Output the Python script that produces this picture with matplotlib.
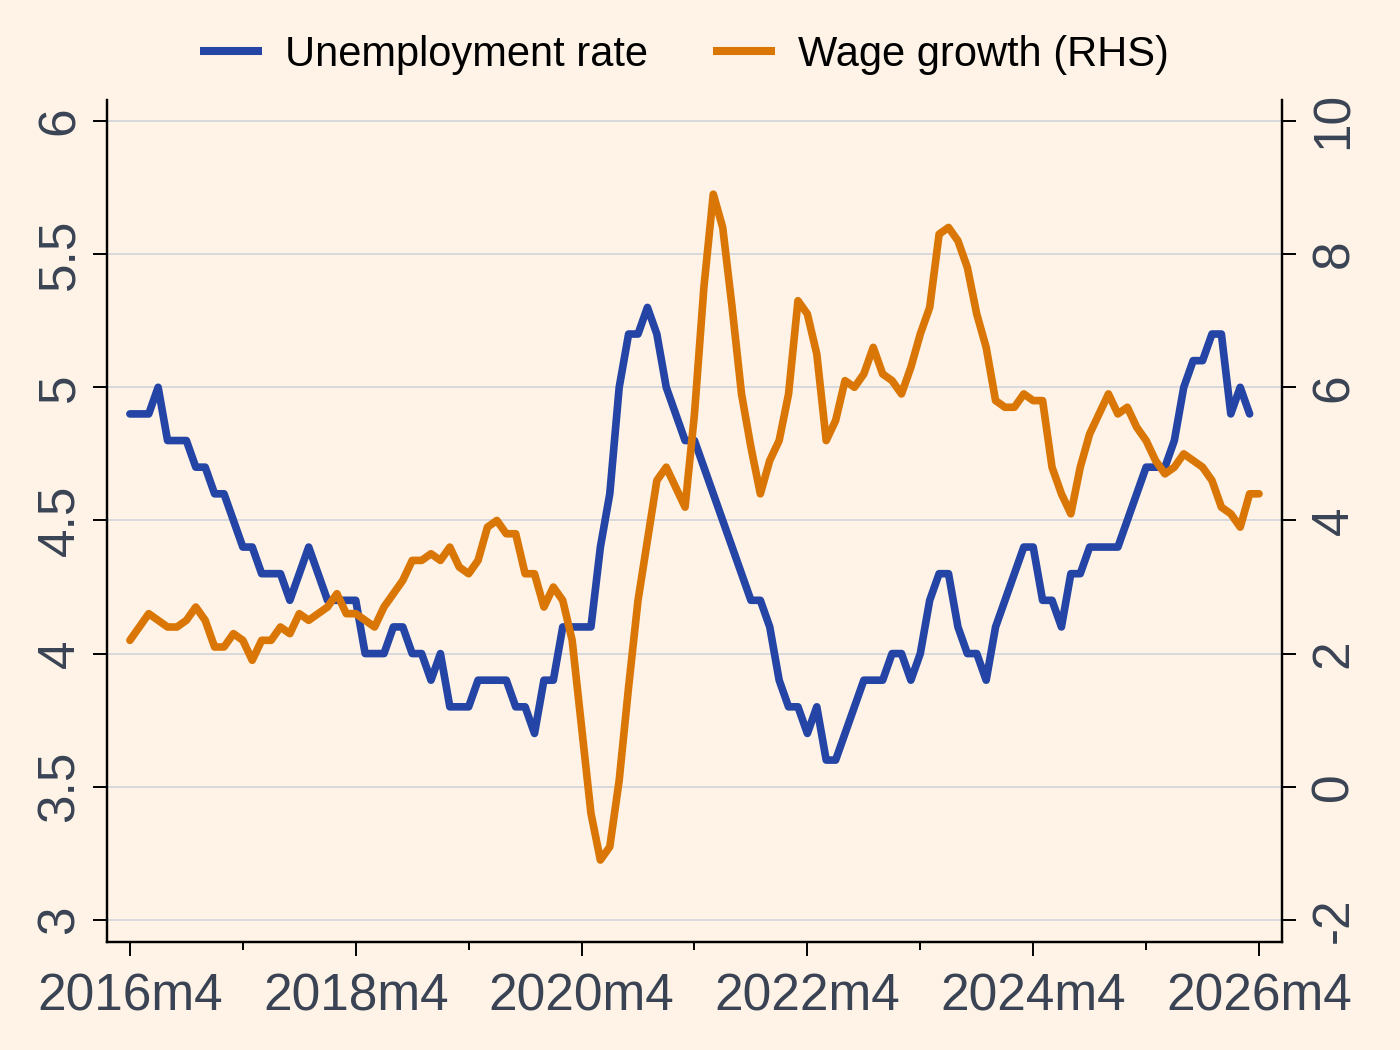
import matplotlib
matplotlib.use("Agg")
import matplotlib.pyplot as plt
import numpy as np

# monthly data, starting 2016m4
unemployment = [4.9, 4.9, 4.9, 5.0, 4.8, 4.8, 4.8, 4.7, 4.7, 4.6,
                4.6, 4.5, 4.4, 4.4, 4.3, 4.3, 4.3, 4.2, 4.3, 4.4,
                4.3, 4.2, 4.2, 4.2, 4.2, 4.0, 4.0, 4.0, 4.1, 4.1,
                4.0, 4.0, 3.9, 4.0, 3.8, 3.8, 3.8, 3.9, 3.9, 3.9,
                3.9, 3.8, 3.8, 3.7, 3.9, 3.9, 4.1, 4.1, 4.1, 4.1,
                4.4, 4.6, 5.0, 5.2, 5.2, 5.3, 5.2, 5.0, 4.9, 4.8,
                4.8, 4.7, 4.6, 4.5, 4.4, 4.3, 4.2, 4.2, 4.1, 3.9,
                3.8, 3.8, 3.7, 3.8, 3.6, 3.6, 3.7, 3.8, 3.9, 3.9,
                3.9, 4.0, 4.0, 3.9, 4.0, 4.2, 4.3, 4.3, 4.1, 4.0,
                4.0, 3.9, 4.1, 4.2, 4.3, 4.4, 4.4, 4.2, 4.2, 4.1,
                4.3, 4.3, 4.4, 4.4, 4.4, 4.4, 4.5, 4.6, 4.7, 4.7,
                4.7, 4.8, 5.0, 5.1, 5.1, 5.2, 5.2, 4.9, 5.0, 4.9]

wage_growth = [2.2, 2.4, 2.6, 2.5, 2.4, 2.4, 2.5, 2.7, 2.5, 2.1,
               2.1, 2.3, 2.2, 1.9, 2.2, 2.2, 2.4, 2.3, 2.6, 2.5,
               2.6, 2.7, 2.9, 2.6, 2.6, 2.5, 2.4, 2.7, 2.9, 3.1,
               3.4, 3.4, 3.5, 3.4, 3.6, 3.3, 3.2, 3.4, 3.9, 4.0,
               3.8, 3.8, 3.2, 3.2, 2.7, 3.0, 2.8, 2.2, 0.9, -0.4,
               -1.1, -0.9, 0.1, 1.5, 2.8, 3.7, 4.6, 4.8, 4.5, 4.2,
               5.6, 7.5, 8.9, 8.4, 7.2, 5.9, 5.1, 4.4, 4.9, 5.2,
               5.9, 7.3, 7.1, 6.5, 5.2, 5.5, 6.1, 6.0, 6.2, 6.6,
               6.2, 6.1, 5.9, 6.3, 6.8, 7.2, 8.3, 8.4, 8.2, 7.8,
               7.1, 6.6, 5.8, 5.7, 5.7, 5.9, 5.8, 5.8, 4.8, 4.4,
               4.1, 4.8, 5.3, 5.6, 5.9, 5.6, 5.7, 5.4, 5.2, 4.9,
               4.7, 4.8, 5.0, 4.9, 4.8, 4.6, 4.2, 4.1, 3.9, 4.4,
               4.4]

tick_labels = ['2016m4', '2018m4', '2020m4', '2022m4', '2024m4', '2026m4']
left_ticks = [3, 3.5, 4, 4.5, 5, 5.5, 6]
left_labels = ['3', '3.5', '4', '4.5', '5', '5.5', '6']
right_ticks = [-2, 0, 2, 4, 6, 8, 10]

bg = '#FEF3E6'
blue = '#2444A6'
orange = '#DA7605'
label_col = '#3A4354'

plt.rcParams['font.family'] = ['Liberation Sans', 'DejaVu Sans']

fig = plt.figure(figsize=(14, 10.5), dpi=100, facecolor=bg)
ax = fig.add_axes([0.0764, 0.1029, 0.8393, 0.8019])
ax.set_facecolor(bg)
ax2 = ax.twinx()

t_u = np.arange(len(unemployment))
t_w = np.arange(len(wage_growth))

l1, = ax.plot(t_u, unemployment, color=blue, lw=5.5, solid_joinstyle='round',
              solid_capstyle='round', label='Unemployment rate')
l2, = ax2.plot(t_w, wage_growth, color=orange, lw=5.5, solid_joinstyle='round',
               solid_capstyle='round', label='Wage growth (RHS)')

ax.set_xlim(-2.44, 122.44)
ax.set_ylim(2.917, 6.079)
ax2.set_ylim(-2.33, 10.315)

major_x = [24 * i for i in range(len(tick_labels))]
ax.set_xticks(major_x)
ax.set_xticklabels(tick_labels)
ax.set_xticks([12 + 24 * i for i in range(5)], minor=True)

ax.set_yticks(left_ticks)
ax.set_yticklabels(left_labels, rotation=90, va='center')
ax2.set_yticks(right_ticks)
ax2.set_yticklabels([str(v) for v in right_ticks], rotation=90, va='center')

ax.grid(axis='y', color='#D4D7DD', lw=1.3)
ax.set_axisbelow(True)

for a in (ax, ax2):
    a.spines['top'].set_visible(False)
    for s in ('left', 'right', 'bottom'):
        a.spines[s].set_linewidth(1.6)
        a.spines[s].set_color('black')

ax.tick_params(axis='x', which='major', length=10, width=1.4, pad=12,
               labelsize=37, labelcolor=label_col)
ax.tick_params(axis='x', which='minor', length=6, width=1.4)
ax.tick_params(axis='y', length=10, width=1.4, pad=6, labelsize=37,
               labelcolor=label_col)
ax2.tick_params(axis='y', length=10, width=1.4, pad=10, labelsize=37,
                labelcolor=label_col)

leg = fig.legend(handles=[l1, l2], loc='center', bbox_to_anchor=(0.489, 0.948),
                 ncol=2, frameon=False, fontsize=30, handlelength=1.5,
                 handletextpad=0.55, columnspacing=1.55)
for h in leg.legend_handles:
    h.set_linewidth(5.8)
    h.set_solid_capstyle('butt')

fig.savefig('out.png', dpi=100, facecolor=bg)
